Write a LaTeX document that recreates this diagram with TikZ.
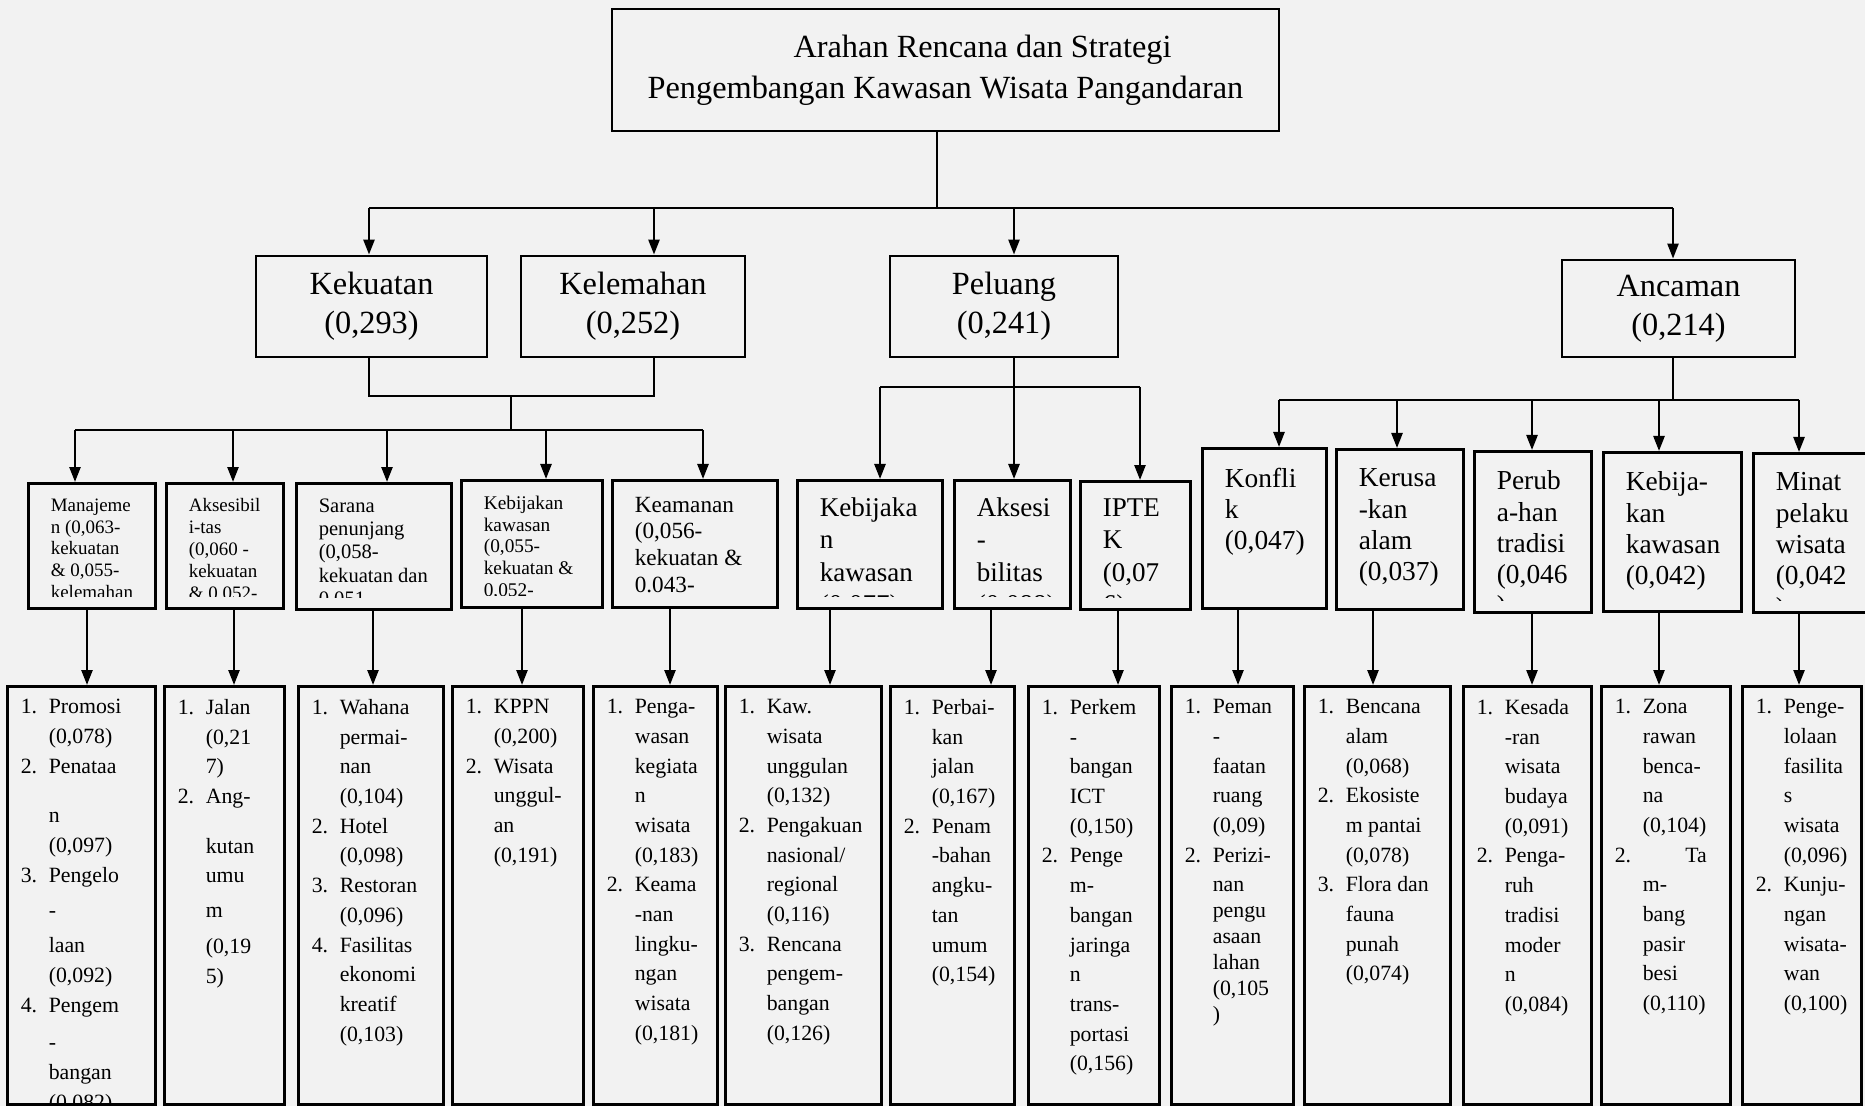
\documentclass[tikz,border=0pt]{standalone}
\usepackage{fontspec}
\setmainfont{Liberation Serif}
\usetikzlibrary{arrows.meta,positioning,calc}
\newcommand{\fsz}[2]{\fontsize{#1}{#2}\selectfont}
\newcommand{\itm}[1]{\makebox[2.8mm][l]{#1}}
\newcommand{\ind}{\hspace*{2.8mm}}

\begin{document}
\begin{tikzpicture}[
  >={Triangle[length=1.5mm,width=1.1mm]},
  box/.style={rectangle,draw,line width=0.8pt,inner sep=0pt,anchor=north west},
  head/.style={rectangle,draw,line width=0.8pt,align=center,font=\fsz{9.2}{11.1}},
  conn/.style={draw,line width=0.7pt},
  arr/.style={->,draw,line width=0.7pt},
  midtext/.style n args={3}{path picture={
      \clip (path picture bounding box.north west) rectangle ([yshift=1.2mm]path picture bounding box.south east);
      \node[anchor=north west,inner sep=0pt,minimum size=0pt,align=left,font=#1]
        at ([shift={(2.1mm,-#2)}]path picture bounding box.north west) {#3};}},
  listtext/.style={path picture={
      \node[anchor=north west,inner sep=0pt,minimum size=0pt,align=left,font=\fsz{6.2}{8.45}]
        at ([shift={(1.2mm,-1.15mm)}]path picture bounding box.north west) {#1};}},
]
  \useasboundingbox (0,0) rectangle (18.65,-11.06);
  \clip (0,0) rectangle (18.65,-11.06);
  \fill[black!5] (0,0) rectangle (18.65,-11.06);

  % top and second level
  \node[head,font=\fsz{9.2}{11.6},minimum width=6.67cm,minimum height=1.22cm] (ttl) at (9.455,-0.70)
    {\hspace*{7.4mm}Arahan Rencana dan Strategi\\Pengembangan Kawasan Wisata Pangandaran};
  \node[head,minimum width=2.31cm,minimum height=1.01cm] (kek) at (3.715,-3.065) {Kekuatan\\(0,293)};
  \node[head,minimum width=2.24cm,minimum height=1.01cm] (kel) at (6.33,-3.065) {Kelemahan\\(0,252)};
  \node[head,minimum width=2.28cm,minimum height=1.01cm] (pel) at (10.04,-3.065) {Peluang\\(0,241)};
  \node[head,minimum width=2.33cm,minimum height=0.97cm] (anc) at (16.785,-3.085) {Ancaman\\(0,214)};

  % third level
  \node[box,minimum width=1.27cm,minimum height=1.25cm,
    midtext={\fsz{5.4}{6.2}}{1.4mm}{Manajeme\\n (0,063-\\kekuatan\\\& 0,055-\\kelemahan}] (sw1) at (0.27,-4.82) {};
  \node[box,minimum width=1.17cm,minimum height=1.25cm,
    midtext={\fsz{5.4}{6.2}}{1.4mm}{Aksesibil\\i-tas\\(0,060 -\\kekuatan\\\& 0,052-}] (sw2) at (1.65,-4.82) {};
  \node[box,minimum width=1.55cm,minimum height=1.26cm,
    midtext={\fsz{5.85}{6.6}}{1.4mm}{Sarana\\penunjang\\(0,058-\\kekuatan dan\\0,051-}] (sw3) at (2.95,-4.82) {};
  \node[box,minimum width=1.41cm,minimum height=1.27cm,
    midtext={\fsz{5.5}{6.2}}{1.4mm}{Kebijakan\\kawasan\\(0,055-\\kekuatan \&\\0,052-}] (sw4) at (4.60,-4.79) {};
  \node[box,minimum width=1.65cm,minimum height=1.27cm,
    midtext={\fsz{6.6}{7.6}}{1.5mm}{Keamanan\\(0,056-\\kekuatan \&\\0.043-\\kelemahan)}] (sw5) at (6.11,-4.79) {};
  \node[box,minimum width=1.45cm,minimum height=1.28cm,
    midtext={\fsz{7.7}{9.2}}{1.6mm}{Kebijaka\\n\\kawasan\\(0,077)}] (op1) at (7.96,-4.79) {};
  \node[box,minimum width=1.16cm,minimum height=1.28cm,
    midtext={\fsz{7.7}{9.2}}{1.6mm}{Aksesi\\-\\bilitas\\(0,088)}] (op2) at (9.53,-4.79) {};
  \node[box,minimum width=1.10cm,minimum height=1.28cm,
    midtext={\fsz{7.7}{9.2}}{1.6mm}{IPTE\\K\\(0,07\\6)}] (op3) at (10.79,-4.80) {};
  \node[box,minimum width=1.24cm,minimum height=1.60cm,
    midtext={\fsz{7.8}{8.9}}{1.8mm}{Konfli\\k\\(0,047)}] (th1) at (12.01,-4.47) {};
  \node[box,minimum width=1.27cm,minimum height=1.60cm,
    midtext={\fsz{7.8}{8.9}}{1.8mm}{Kerusa\\-kan\\alam\\(0,037)}] (th2) at (13.35,-4.48) {};
  \node[box,minimum width=1.17cm,minimum height=1.61cm,
    midtext={\fsz{7.8}{8.9}}{1.8mm}{Perub\\a-han\\tradisi\\(0,046\\)}] (th3) at (14.73,-4.50) {};
  \node[box,minimum width=1.38cm,minimum height=1.59cm,
    midtext={\fsz{7.8}{8.9}}{1.8mm}{Kebija-\\kan\\kawasan\\(0,042)}] (th4) at (16.02,-4.51) {};
  \node[box,minimum width=1.30cm,minimum height=1.59cm,
    midtext={\fsz{7.8}{8.9}}{1.8mm}{Minat\\pelaku\\wisata\\(0,042\\)}] (th5) at (17.52,-4.52) {};

  % bottom lists
  \node[box,minimum width=1.48cm,minimum height=4.18cm,listtext={\itm{1.}Promosi\\\ind(0,078)\\\itm{2.}Penataa\\[2mm]\ind n\\\ind(0,097)\\\itm{3.}Pengelo\\[0.6mm]\ind -\\[0.5mm]\ind laan\\\ind(0,092)\\\itm{4.}Pengem\\[0.8mm]\ind -\\\ind bangan\\\ind(0,082)}] (l1) at (0.06,-6.85) {};
  \node[box,minimum width=1.20cm,minimum height=4.18cm,listtext={\itm{1.}Jalan\\\ind(0,21\\\ind 7)\\\itm{2.}Ang-\\[2mm]\ind kutan\\\ind umu\\[0.5mm]\ind m\\[0.6mm]\ind(0,19\\\ind 5)}] (l2) at (1.63,-6.85) {};
  \node[box,minimum width=1.45cm,minimum height=4.18cm,listtext={\itm{1.}Wahana\\\ind permai-\\\ind nan\\\ind(0,104)\\\itm{2.}Hotel\\\ind(0,098)\\\itm{3.}Restoran\\\ind(0,096)\\\itm{4.}Fasilitas\\\ind ekonomi\\\ind kreatif\\\ind(0,103)}] (l3) at (2.97,-6.85) {};
  \node[box,minimum width=1.31cm,minimum height=4.18cm,listtext={\itm{1.}KPPN\\\ind(0,200)\\\itm{2.}Wisata\\\ind unggul-\\\ind an\\\ind(0,191)}] (l4) at (4.51,-6.85) {};
  \node[box,minimum width=1.24cm,minimum height=4.18cm,listtext={\itm{1.}Penga-\\\ind wasan\\\ind kegiata\\\ind n\\\ind wisata\\\ind(0,183)\\\itm{2.}Keama\\\ind -nan\\\ind lingku-\\\ind ngan\\\ind wisata\\\ind(0,181)}] (l5) at (5.92,-6.85) {};
  \node[box,minimum width=1.56cm,minimum height=4.18cm,listtext={\itm{1.}Kaw.\\\ind wisata\\\ind unggulan\\\ind(0,132)\\\itm{2.}Pengakuan\\\ind nasional/\\\ind regional\\\ind(0,116)\\\itm{3.}Rencana\\\ind pengem-\\\ind bangan\\\ind(0,126)}] (l6) at (7.24,-6.85) {};
  \node[box,minimum width=1.24cm,minimum height=4.18cm,listtext={\itm{1.}Perbai-\\\ind kan\\\ind jalan\\\ind(0,167)\\\itm{2.}Penam\\\ind -bahan\\\ind angku-\\\ind tan\\\ind umum\\\ind(0,154)}] (l7) at (8.89,-6.85) {};
  \node[box,minimum width=1.31cm,minimum height=4.18cm,listtext={\itm{1.}Perkem\\\ind -\\\ind bangan\\\ind ICT\\\ind(0,150)\\\itm{2.}Penge\\\ind m-\\\ind bangan\\\ind jaringa\\\ind n\\\ind trans-\\\ind portasi\\\ind(0,156)}] (l8) at (10.27,-6.85) {};
  \node[box,minimum width=1.22cm,minimum height=4.18cm,listtext={\itm{1.}Peman\\\ind -\\\ind faatan\\\ind ruang\\\ind(0,09)\\\itm{2.}Perizi-\\\ind nan\\[-0.37mm]\ind pengu\\[-0.37mm]\ind asaan\\[-0.37mm]\ind lahan\\[-0.37mm]\ind(0,105\\[-0.37mm]\ind )}] (l9) at (11.70,-6.85) {};
  \node[box,minimum width=1.46cm,minimum height=4.18cm,listtext={\itm{1.}Bencana\\\ind alam\\\ind(0,068)\\\itm{2.}Ekosiste\\\ind m pantai\\\ind(0,078)\\\itm{3.}Flora dan\\\ind fauna\\\ind punah\\\ind(0,074)}] (l10) at (13.03,-6.85) {};
  \node[box,minimum width=1.28cm,minimum height=4.18cm,listtext={\itm{1.}Kesada\\\ind -ran\\\ind wisata\\\ind budaya\\\ind(0,091)\\\itm{2.}Penga-\\\ind ruh\\\ind tradisi\\\ind moder\\\ind n\\\ind(0,084)}] (l11) at (14.62,-6.85) {};
  \node[box,minimum width=1.29cm,minimum height=4.18cm,listtext={\itm{1.}Zona\\\ind rawan\\\ind benca-\\\ind na\\\ind(0,104)\\\itm{2.}\makebox[6.4mm][r]{Ta}\\\ind m-\\\ind bang\\\ind pasir\\\ind besi\\\ind(0,110)}] (l12) at (16.00,-6.85) {};
  \node[box,minimum width=1.19cm,minimum height=4.18cm,listtext={\itm{1.}Penge-\\\ind lolaan\\\ind fasilita\\\ind s\\\ind wisata\\\ind(0,096)\\\itm{2.}Kunju-\\\ind ngan\\\ind wisata-\\\ind wan\\\ind(0,100)}] (l13) at (17.41,-6.85) {};

  % connectors from the top box
  \coordinate (t0) at (9.37,-2.08);
  \coordinate (tK) at (3.69,-2.08);
  \coordinate (tL) at (6.54,-2.08);
  \coordinate (tP) at (10.14,-2.08);
  \coordinate (tA) at (16.73,-2.08);
  \draw[conn] (t0 |- ttl.south) -- (t0);
  \draw[conn] (tK) -- (tA);
  \draw[arr] (tK) -- (tK |- kek.north);
  \draw[arr] (tL) -- (tL |- kel.north);
  \draw[arr] (tP) -- (tP |- pel.north);
  \draw[arr] (tA) -- (tA |- anc.north);

  % Kekuatan and Kelemahan
  \coordinate (jK) at (3.69,-3.96);
  \coordinate (jL) at (6.54,-3.96);
  \coordinate (jS) at (5.11,-3.96);
  \coordinate (s1) at (0.75,-4.30);
  \coordinate (s2) at (2.33,-4.30);
  \coordinate (s3) at (3.87,-4.30);
  \coordinate (s4) at (5.46,-4.30);
  \coordinate (s5) at (7.03,-4.30);
  \draw[conn] (jK |- kek.south) -- (jK) -- (jL) -- (jL |- kel.south);
  \draw[conn] (jS) -- (jS |- s1);
  \draw[conn] (s1) -- (s5);
  \draw[arr] (s1) -- (s1 |- sw1.north);
  \draw[arr] (s2) -- (s2 |- sw2.north);
  \draw[arr] (s3) -- (s3 |- sw3.north);
  \draw[arr] (s4) -- (s4 |- sw4.north);
  \draw[arr] (s5) -- (s5 |- sw5.north);

  % Peluang
  \coordinate (p1) at (8.80,-3.87);
  \coordinate (p2) at (10.14,-3.87);
  \coordinate (p3) at (11.40,-3.87);
  \draw[conn] (p2 |- pel.south) -- (p2);
  \draw[conn] (p1) -- (p3);
  \draw[arr] (p1) -- (p1 |- op1.north);
  \draw[arr] (p2) -- (p2 |- op2.north);
  \draw[arr] (p3) -- (p3 |- op3.north);

  % Ancaman
  \coordinate (a0) at (16.73,-4.00);
  \coordinate (a1) at (12.79,-4.00);
  \coordinate (a2) at (13.97,-4.00);
  \coordinate (a3) at (15.32,-4.00);
  \coordinate (a4) at (16.59,-4.00);
  \coordinate (a5) at (17.99,-4.00);
  \draw[conn] (a0 |- anc.south) -- (a0);
  \draw[conn] (a1) -- (a5);
  \draw[arr] (a1) -- (a1 |- th1.north);
  \draw[arr] (a2) -- (a2 |- th2.north);
  \draw[arr] (a3) -- (a3 |- th3.north);
  \draw[arr] (a4) -- (a4 |- th4.north);
  \draw[arr] (a5) -- (a5 |- th5.north);

  % down to the lists
  \coordinate (d1) at (0.87,-6.4);
  \coordinate (d2) at (2.34,-6.4);
  \coordinate (d3) at (3.73,-6.4);
  \coordinate (d4) at (5.22,-6.4);
  \coordinate (d5) at (6.70,-6.4);
  \coordinate (d6) at (8.30,-6.4);
  \coordinate (d7) at (9.91,-6.4);
  \coordinate (d8) at (11.18,-6.4);
  \coordinate (d9) at (12.38,-6.4);
  \coordinate (d10) at (13.73,-6.4);
  \coordinate (d11) at (15.32,-6.4);
  \coordinate (d12) at (16.59,-6.4);
  \coordinate (d13) at (17.99,-6.4);
  \draw[arr] (d1 |- sw1.south) -- (d1 |- l1.north);
  \draw[arr] (d2 |- sw2.south) -- (d2 |- l2.north);
  \draw[arr] (d3 |- sw3.south) -- (d3 |- l3.north);
  \draw[arr] (d4 |- sw4.south) -- (d4 |- l4.north);
  \draw[arr] (d5 |- sw5.south) -- (d5 |- l5.north);
  \draw[arr] (d6 |- op1.south) -- (d6 |- l6.north);
  \draw[arr] (d7 |- op2.south) -- (d7 |- l7.north);
  \draw[arr] (d8 |- op3.south) -- (d8 |- l8.north);
  \draw[arr] (d9 |- th1.south) -- (d9 |- l9.north);
  \draw[arr] (d10 |- th2.south) -- (d10 |- l10.north);
  \draw[arr] (d11 |- th3.south) -- (d11 |- l11.north);
  \draw[arr] (d12 |- th4.south) -- (d12 |- l12.north);
  \draw[arr] (d13 |- th5.south) -- (d13 |- l13.north);
\end{tikzpicture}
\end{document}
